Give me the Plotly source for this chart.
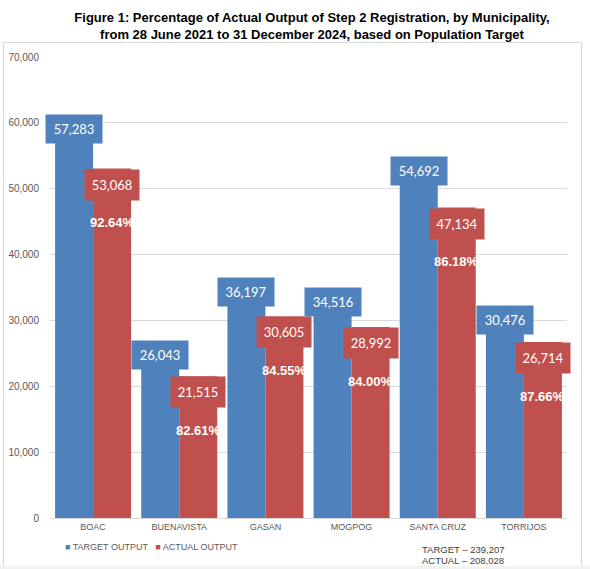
import plotly.graph_objects as go

# ---- data ----
municipalities = ["BOAC", "BUENAVISTA", "GASAN", "MOGPOG", "SANTA CRUZ", "TORRIJOS"]
target_output = [57283, 26043, 36197, 34516, 54692, 30476]
actual_output = [53068, 21515, 30605, 28992, 47134, 26714]
percent_labels = ["92.64%", "82.61%", "84.55%", "84.00%", "86.18%", "87.66%"]
total_target = "239,207"
total_actual = "208,028"
series_names = ["TARGET OUTPUT", "ACTUAL OUTPUT"]

# ---- styles ----
BLUE = "#4F81BD"
RED = "#C0504D"
GRID = "#D9D9D9"
TXT = "#595959"
blue_label_raise_px = [27, 6, 3, 4, 2, 12]   # how far each blue box rises above its bar top
BAR_HALF_PX = 19
LABEL_FONT = "Lato, Liberation Sans, sans-serif"
AX_FONT = "Liberation Sans, Arial, sans-serif"

W, H = 590, 569
ML, MR, MT, MB = 50, 23, 57, 51
PW, PH = W - ML - MR, H - MT - MB


def px_to_paper_x(px):
    return (px - ML) / PW


def px_to_paper_y(py):
    return (H - MB - py) / PH


fig = go.Figure()
fig.add_trace(go.Bar(x=municipalities, y=target_output, name=series_names[0],
                     marker=dict(color=BLUE, line=dict(width=0)), hoverinfo="x+y"))
fig.add_trace(go.Bar(x=municipalities, y=actual_output, name=series_names[1],
                     marker=dict(color=RED, line=dict(width=0)), hoverinfo="x+y"))

annotations = []
for i, m in enumerate(municipalities):
    annotations.append(dict(
        x=m, y=target_output[i], xref="x", yref="y", xshift=-BAR_HALF_PX,
        yshift=blue_label_raise_px[i], yanchor="top",
        text=f"{target_output[i]:,}", showarrow=False,
        font=dict(family=LABEL_FONT, size=13, color="white"),
        bgcolor=BLUE, width=56, height=28, borderpad=0, align="center", valign="middle"))
    annotations.append(dict(
        x=m, y=actual_output[i], xref="x", yref="y", xshift=BAR_HALF_PX,
        yanchor="top",
        text=f"{actual_output[i]:,}", showarrow=False,
        font=dict(family=LABEL_FONT, size=13, color="white"),
        bgcolor=RED, width=54, height=30, borderpad=0, align="center", valign="middle"))
    annotations.append(dict(
        x=m, y=actual_output[i], xref="x", yref="y", xshift=BAR_HALF_PX,
        yshift=-54, yanchor="middle",
        text=f"<b>{percent_labels[i]}</b>", showarrow=False,
        font=dict(family=AX_FONT, size=13, color="white")))

# legend drawn as text with coloured squares
annotations.append(dict(
    x=px_to_paper_x(63), y=px_to_paper_y(547), xref="paper", yref="paper",
    xanchor="left", yanchor="middle", showarrow=False,
    text=(f"<span style='color:{BLUE}'>■</span> {series_names[0]}   "
          f"<span style='color:{RED}'>■</span> {series_names[1]}"),
    font=dict(family=AX_FONT, size=9, color=TXT)))

annotations.append(dict(
    x=px_to_paper_x(463), y=px_to_paper_y(549), xref="paper", yref="paper",
    text=f"TARGET – {total_target}", showarrow=False, xanchor="center", yanchor="middle",
    font=dict(family=AX_FONT, size=9.5, color="#404040")))
annotations.append(dict(
    x=px_to_paper_x(463), y=px_to_paper_y(560), xref="paper", yref="paper",
    text=f"ACTUAL – {total_actual}", showarrow=False, xanchor="center", yanchor="middle",
    font=dict(family=AX_FONT, size=9.5, color="#404040")))

shapes = [
    dict(type="rect", xref="paper", yref="paper", layer="below",
         x0=px_to_paper_x(3.5), x1=px_to_paper_x(581.5), y0=px_to_paper_y(575), y1=px_to_paper_y(42.5),
         line=dict(color="#D9D9D9", width=1), fillcolor="rgba(0,0,0,0)"),
    dict(type="rect", xref="paper", yref="paper", layer="above",
         x0=px_to_paper_x(-5), x1=px_to_paper_x(600), y0=px_to_paper_y(575), y1=px_to_paper_y(566),
         line=dict(width=0), fillcolor="#F2F2F2"),
]

fig.update_layout(
    width=W, height=H,
    margin=dict(l=ML, r=MR, t=MT, b=MB, autoexpand=False),
    paper_bgcolor="white", plot_bgcolor="white",
    barmode="group", bargap=0.118, bargroupgap=0,
    showlegend=False,
    title=dict(
        text="<b>Figure 1: Percentage of Actual Output of Step 2 Registration, by Municipality,<br>"
             "from 28 June 2021 to 31 December 2024, based on Population Target</b>",
        x=312 / W, xanchor="center", y=1 - 22 / H, yanchor="middle", xref="container", yref="container",
        font=dict(family=AX_FONT, size=13, color="black")),
    xaxis=dict(range=[-0.5, len(municipalities) - 0.5], autorange=False,
               showgrid=False, showline=True, linecolor=GRID, linewidth=1, ticks="",
               tickfont=dict(family=AX_FONT, size=9, color=TXT)),
    yaxis=dict(range=[0, 70000], dtick=10000, tickformat=",", showgrid=True, gridcolor=GRID,
               gridwidth=1, showline=False, zeroline=False, ticks="", ticklabelstandoff=10,
               tickfont=dict(family=AX_FONT, size=10, color=TXT)),
    annotations=annotations, shapes=shapes,
)

fig.write_html("out.html", config={"displayModeBar": False},
               post_script="document.body.style.margin='0';document.body.style.overflow='hidden';")
